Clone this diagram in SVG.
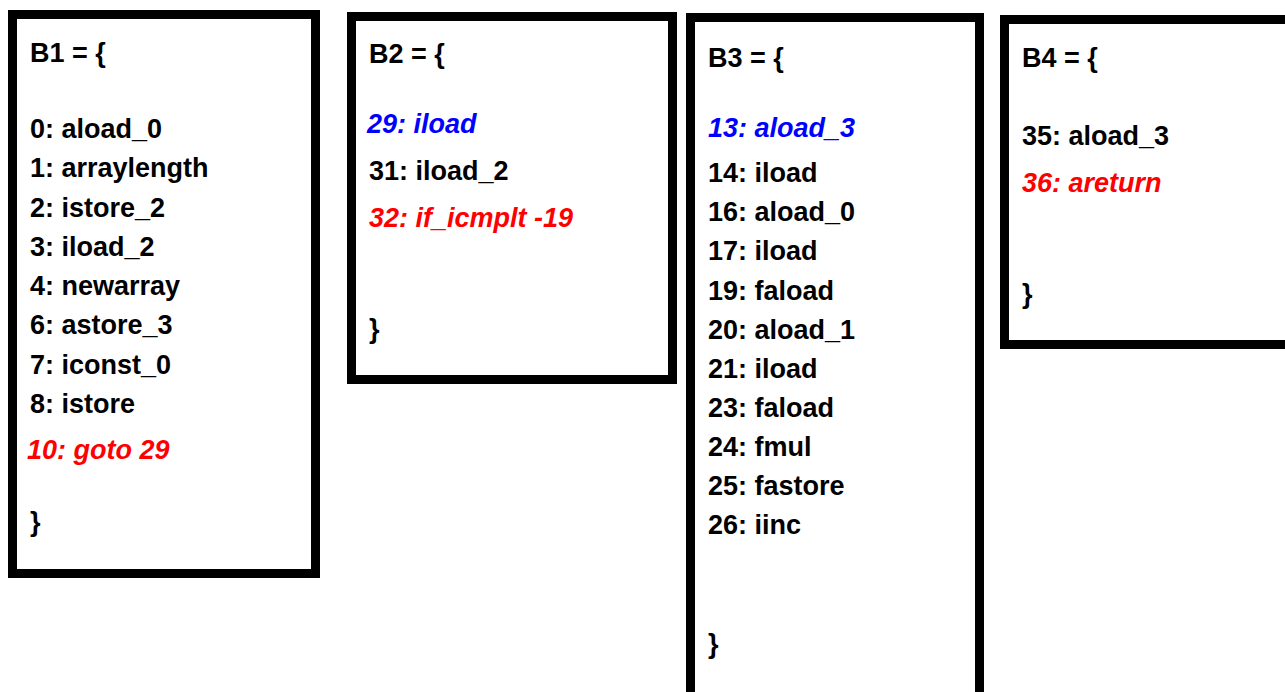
<svg xmlns="http://www.w3.org/2000/svg" width="1285" height="692" viewBox="0 0 1285 692">
<style>
.box{fill:#fff;stroke:#000;stroke-width:9}
text{font-family:"Liberation Sans",Arial,sans-serif;font-weight:bold;font-size:27px;fill:#000}
.r{fill:#ff0000;font-style:italic}
.b{fill:#0000ff;font-style:italic}
</style>
<rect width="1285" height="692" fill="#fff"/>
<g id="B1">
<rect class="box" x="12.5" y="14.5" width="303" height="559"/>
<text x="30" y="62">B1 = {</text>
<text x="30" y="138">0: aload_0</text>
<text x="30" y="177">1: arraylength</text>
<text x="30" y="217">2: istore_2</text>
<text x="30" y="256">3: iload_2</text>
<text x="30" y="295">4: newarray</text>
<text x="30" y="334">6: astore_3</text>
<text x="30" y="374">7: iconst_0</text>
<text x="30" y="413">8: istore</text>
<text class="r" x="27" y="459">10: goto 29</text>
<text x="30" y="531">}</text>
</g>
<g id="B2">
<rect class="box" x="351.5" y="16.5" width="321" height="363"/>
<text x="369" y="63">B2 = {</text>
<text class="b" x="367" y="133">29: iload</text>
<text x="369" y="180">31: iload_2</text>
<text class="r" x="369" y="227">32: if_icmplt -19</text>
<text x="369" y="338">}</text>
</g>
<g id="B3">
<rect class="box" x="690.5" y="17.5" width="289" height="690"/>
<text x="708" y="67">B3 = {</text>
<text class="b" x="708" y="137">13: aload_3</text>
<text x="708" y="182">14: iload</text>
<text x="708" y="221">16: aload_0</text>
<text x="708" y="260">17: iload</text>
<text x="708" y="300">19: faload</text>
<text x="708" y="339">20: aload_1</text>
<text x="708" y="378">21: iload</text>
<text x="708" y="417">23: faload</text>
<text x="708" y="456">24: fmul</text>
<text x="708" y="495">25: fastore</text>
<text x="708" y="534">26: iinc</text>
<text x="708" y="653">}</text>
</g>
<g id="B4">
<rect class="box" x="1004.5" y="19.5" width="300" height="325"/>
<text x="1022" y="67">B4 = {</text>
<text x="1022" y="145">35: aload_3</text>
<text class="r" x="1022" y="192">36: areturn</text>
<text x="1022" y="303">}</text>
</g>
<g id="connectors"/>
</svg>
